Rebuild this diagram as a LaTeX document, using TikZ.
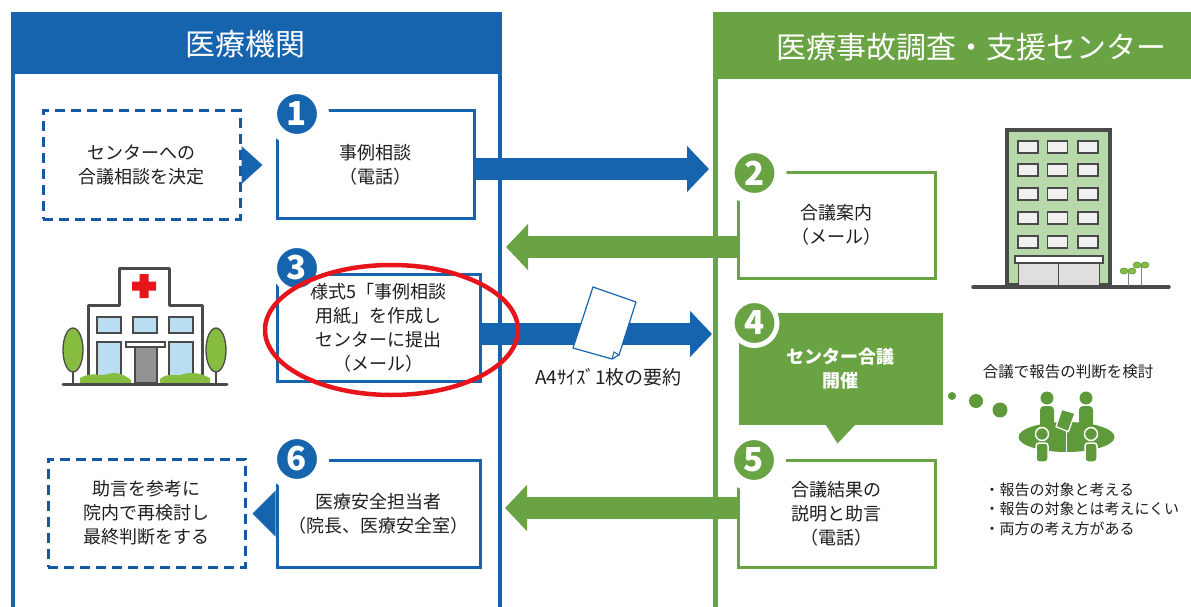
\documentclass[tikz,border=0pt]{standalone}
\usepackage{fontspec}
\setmainfont{Noto Sans CJK JP}
\usetikzlibrary{arrows.meta}
\definecolor{iryoblue}{HTML}{1764AE}
\definecolor{dashblue}{HTML}{1558A0}
\definecolor{iryogreen}{HTML}{6AA343}
\definecolor{darkgreen}{HTML}{5E9A3A}
\definecolor{leafgreen}{HTML}{86BC3F}
\definecolor{wallgray}{HTML}{4A4A4A}
\definecolor{glassblue}{HTML}{B9DDF1}
\definecolor{officegreen}{HTML}{B7D8A9}
\definecolor{txt}{HTML}{1E1E1E}
\definecolor{markred}{HTML}{E8141C}
\newcommand{\boxfont}{\fontsize{18}{24}\selectfont}
\newcommand{\numfont}{\fontsize{33}{33}\selectfont\bfseries}

\begin{document}
\begin{tikzpicture}[x=1pt,y=-1pt,
	box/.style={draw=iryoblue, line width=3pt, fill=white, minimum width=200pt, minimum height=107pt, align=center, inner sep=0pt, text=txt, font=\boxfont},
	gbox/.style={box, draw=iryogreen},
	dbox/.style={box, draw=dashblue, dash pattern=on 10pt off 6pt},
	num/.style={circle, fill=iryoblue, draw=white, line width=12pt, minimum size=52pt, inner sep=0pt, text=white, font=\numfont},
	gnum/.style={num, fill=iryogreen},
	bluearrow/.style={draw=iryoblue, line width=22pt, -{Triangle[length=22pt,width=45pt]}},
	greenarrow/.style={bluearrow, draw=iryogreen},
	headtext/.style={text=white, font=\fontsize{30}{30}\selectfont}]
	\useasboundingbox (0,0) rectangle (1191,607);

	% two panels
	\fill[iryoblue] (10.7,12) rectangle (502,74);
	\draw[iryoblue, line width=4pt] (12.7,72) -- (12.7,607) (500,72) -- (500,607);
	\fill[iryogreen] (713,12) rectangle (1191,79);
	\draw[iryogreen, line width=4.5pt] (715.3,77) -- (715.3,607);
	\node[headtext] (kikan) at (245,44) {医療機関};
	\node[headtext] (shien) at (971,47) {医療事故調査・支援センター};

	% steps
	\node[dbox, minimum width=197pt, minimum height=108pt] (kettei) at (141.5,165) {センターへの\\合議相談を決定};
	\node[box, minimum width=197pt] (soudan) at (375.8,164.5) {事例相談\\（電話）};
	\node[gbox, minimum width=197pt, minimum height=106pt] (annai) at (836.8,225) {合議案内\\（メール）};
	\node[box, minimum width=203pt] (yoshiki) at (378.5,327.5) {様式5「事例相談\\用紙」を作成し\\センターに提出\\（メール）};
	\node[gbox, fill=iryogreen, minimum width=201pt, minimum height=109pt, text=white, font=\boxfont\bfseries] (kaigi) at (840.5,368.5) {センター合議\\開催};
	\node[gbox, minimum width=197pt] (kekka) at (836.5,513.5) {合議結果の\\説明と助言\\（電話）};
	\node[box, minimum width=203pt] (tanto) at (378.5,513.5) {医療安全担当者\\（院長、医療安全室）};
	\node[dbox, minimum width=197pt, minimum height=108pt] (saikento) at (146.5,513) {助言を参考に\\院内で再検討し\\最終判断をする};

	\fill[iryoblue] (kettei.east) ++(0,-19) -- ++(21,19) -- ++(-21,19) -- cycle;
	\fill[iryoblue] (tanto.west) ++(0,-23) -- ++(-23,23) -- ++(23,23) -- cycle;
	\fill[iryogreen] ([xshift=-15pt]kaigi.south) -- ([xshift=15pt]kaigi.south) -- ++(-18,19) -- cycle;

	% arrows between the panels
	\coordinate (tip1) at (709,169);
	\coordinate (tip2) at (506,247);
	\coordinate (tip3) at (712,334);
	\coordinate (tip5) at (505,508);
	\draw[bluearrow] (soudan.east |- tip1) -- (tip1);
	\draw[greenarrow] (annai.west |- tip2) -- (tip2);
	\draw[bluearrow] (yoshiki.east |- tip3) -- (tip3);
	\draw[greenarrow] (kekka.west |- tip5) -- (tip5);

	\node[num] (n1) at (297,114) {1};
	\node[gnum] (n2) at (754.5,173) {2};
	\node[num, line width=6pt, minimum size=46pt] (n3) at (297,268) {3};
	\node[gnum, line width=5pt, minimum size=45pt] (n4) at (754.5,323) {4};
	\node[gnum] (n5) at (754,460) {5};
	\node[num] (n6) at (297,459) {6};

	\draw[markred, line width=4.5pt] (391.5,330) ellipse [x radius=126.5, y radius=65];

	% summary sheet
	\filldraw[fill=white, draw=iryoblue, line width=1.2pt, line join=round] (593,287) -- (636,302) -- (619,355) -- (612,359) -- (573,348) -- cycle;
	\draw[iryoblue, line width=1pt] (619,355) -- (614,352) -- (612,359);
	\node[font=\fontsize{19}{24}\selectfont, text=txt] (youyaku) at (608.5,377) {A4ｻｲｽﾞ1枚の要約};

	% hospital
	\draw[wallgray, line width=2.5pt] (73,360) -- (73,383) (216,360) -- (216,383);
	\filldraw[fill=leafgreen, draw=wallgray, line width=1.3pt] (73,350) ellipse [x radius=10, y radius=22];
	\filldraw[fill=leafgreen, draw=wallgray, line width=1.3pt] (216,350) ellipse [x radius=10, y radius=22];
	\filldraw[fill=white, draw=wallgray, line width=3pt, line join=round] (88,383) -- (88,305) -- (119,305) -- (119,268) -- (169,268) -- (169,305) -- (202,305) -- (202,383);
	\fill[markred] (139.5,274) rectangle (148.5,298) (132,281.5) rectangle (156,290.5);
	\foreach \wx in {97,133,169}
		\filldraw[fill=glassblue, draw=wallgray, line width=1.5pt] (\wx,317) rectangle (\wx+24,333);
	\foreach \wx in {97,169}
		\filldraw[fill=glassblue, draw=wallgray, line width=1.5pt] (\wx,342) rectangle (\wx+24,381);
	\filldraw[fill=gray!85, draw=wallgray, line width=1.5pt] (135,347) rectangle (157,383);
	\filldraw[fill=white, draw=wallgray, line width=1.5pt] (126,342) rectangle (165,347);
	\fill[leafgreen] (80,383) -- (80,378) .. controls (92,371) and (100,377) .. (108,374) .. controls (118,371) and (126,376) .. (131,380) -- (131,383) -- cycle;
	\fill[leafgreen] (160,383) -- (160,379) .. controls (168,372) and (176,377) .. (184,374) .. controls (194,371) and (204,375) .. (210,378) -- (210,383) -- cycle;
	\draw[wallgray, line width=3pt, line cap=round] (63,384) -- (227,384);

	% office building
	\filldraw[fill=officegreen, draw=wallgray, line width=3.5pt] (1007,130) rectangle (1110,285);
	\foreach \cx in {1028,1057.5,1088}
	\foreach \cy in {147,170,194,218,242}
	{
		\filldraw[fill=gray!12, draw=wallgray, line width=1.5pt] (\cx-10,\cy-6) rectangle (\cx+10,\cy+6);
	}
	\filldraw[fill=gray!25, draw=wallgray, line width=1pt] (1018,263) rectangle (1058,285) (1058,263) rectangle (1099,285);
	\filldraw[fill=white, draw=wallgray, line width=1.5pt] (1015,256) rectangle (1103,263);
	\draw[wallgray, line width=3.5pt, line cap=round] (973,287) -- (1169,287);
	\draw[gray, line width=1pt] (1128,286) -- (1128,273) (1141,286) -- (1141,266);
	\filldraw[fill=leafgreen, draw=darkgreen, line width=0.6pt] (1124,271) ellipse [x radius=4, y radius=3] (1132,271) ellipse [x radius=4, y radius=3] (1137,265) ellipse [x radius=4, y radius=3] (1145,265) ellipse [x radius=4, y radius=3];

	% meeting
	\node[font=\fontsize{15.5}{18}\selectfont, text=txt] (kentou) at (1068,372) {合議で報告の判断を検討};
	\fill[darkgreen] (952,396) circle (4) (976,401) circle (7) (1000,410) circle (7.5);
	\fill[darkgreen] (1047,398) circle (6.5) (1086,398) circle (6.5);
	\fill[darkgreen, rounded corners=4pt] (1040,406) rectangle (1054,432) (1079,406) rectangle (1093,432);
	\fill[darkgreen] (1066.5,437) ellipse [x radius=48, y radius=15];
	\draw[white, line width=0.8pt] (1066.5,426) -- (1066.5,452);
	\filldraw[fill=darkgreen, draw=white, line width=1.3pt, line join=round] (1061.7,409.3) -- (1075,413.3) -- (1068.3,431.7) -- (1056,426.7) -- cycle;
	\filldraw[fill=darkgreen, draw=white, line width=1.5pt] (1042,434) circle (6.5) (1091,434) circle (6.5);
	\filldraw[fill=darkgreen, draw=white, line width=1.5pt, rounded corners=3pt] (1036,443) rectangle (1048,462) (1085,443) rectangle (1097,462);
	\node[font=\fontsize{15}{19.5}\selectfont, text=txt, align=left, anchor=west] (mikata) at (981,509) {・報告の対象と考える\\・報告の対象とは考えにくい\\・両方の考え方がある};
\end{tikzpicture}
\end{document}
